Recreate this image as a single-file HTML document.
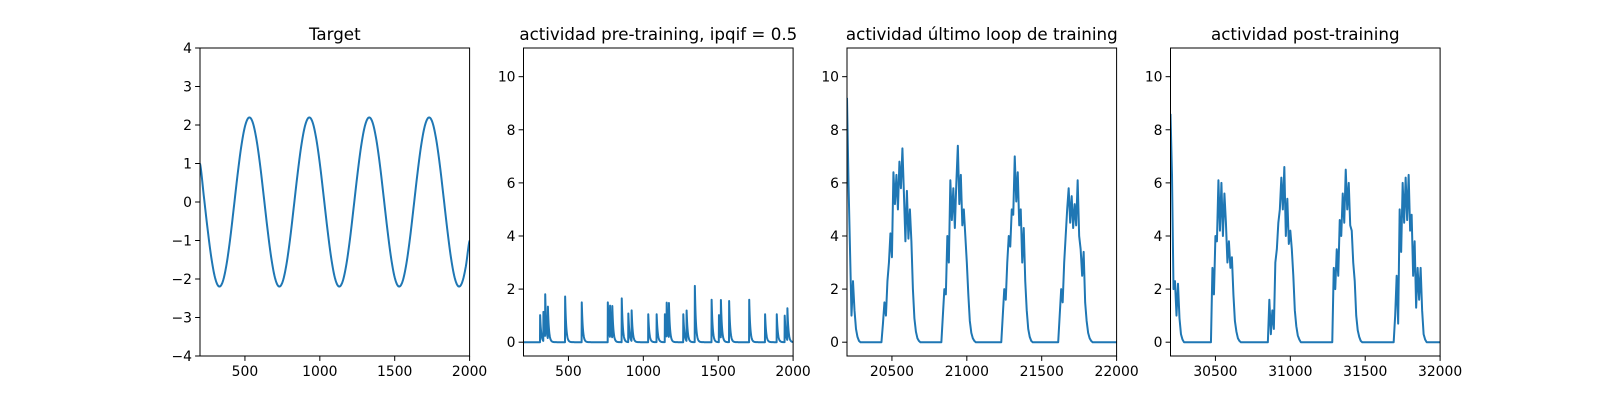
<!DOCTYPE html>
<html><head><meta charset="utf-8">
<style>
html,body{margin:0;padding:0;background:#fff;}
svg{display:block;font-family:"DejaVu Sans","Liberation Sans",sans-serif;}
</style></head>
<body>
<svg id="fig" width="1600" height="400" viewBox="0 0 1600 400" xmlns="http://www.w3.org/2000/svg"></svg>
<script>
// ---- data ----
const targetX0 = 200, targetStep = 25;
const targetValues = [1.0,0.17,-0.68,-1.43,-1.96,-2.19,-2.09,-1.67,-1.0,-0.17,0.68,1.43,1.96,2.19,2.09,1.67,
1.0,0.17,-0.68,-1.43,-1.96,-2.19,-2.09,-1.67,-1.0,-0.17,0.68,1.43,1.96,2.19,2.09,1.67,
1.0,0.17,-0.68,-1.43,-1.96,-2.19,-2.09,-1.67,-1.0,-0.17,0.68,1.43,1.96,2.19,2.09,1.67,
1.0,0.17,-0.68,-1.43,-1.96,-2.19,-2.09,-1.67,-1.0,-0.17,0.68,1.43,1.96,2.19,2.09,1.67,
1.0,0.17,-0.68,-1.43,-1.96,-2.19,-2.09,-1.67,-1.0];
const spikeTimes = [311,333,345,363,478,589,763,778,793,856,900,922,1033,1089,1144,1156,1171,1267,1289,1344,1456,1505,1518,1573,1707,1813,1891,1944,1962];
const spikeHeights = [1.02,1.1,1.6,1.2,1.72,1.5,1.5,1.2,1.2,1.65,1.08,1.15,1.05,1.05,1.05,1.3,1.3,1.05,1.15,2.12,1.6,1.02,1.43,1.55,1.6,1.05,1.05,1.0,1.2];
const trainX0 = 20200, trainStep = 10;
const trainValues = [9.2,6.0,3.5,1.0,2.3,1.2,0.5,0.2,0.05,0,0,0,0,0,0,0,0,0,0,0,0,0,0,0,
0.7,1.5,1.0,2.3,3.0,4.1,3.2,6.4,5.2,6.3,5.0,6.8,5.8,7.3,5.6,3.8,5.7,3.9,5.0,3.8,2.0,0.9,0.4,0.15,0.05,
0,0,0,0,0,0,0,0,0,0,0,0,0,0,0,
1.0,2.0,1.8,4.0,3.0,6.1,4.6,5.8,4.3,6.0,7.4,5.2,6.3,4.4,5.0,4.0,3.0,1.8,0.8,0.35,0.15,0.05,
0,0,0,0,0,0,0,0,0,0,0,0,0,0,0,0,0,0,
1.0,2.0,1.6,3.0,4.0,3.6,5.0,4.8,7.0,5.3,6.4,4.4,5.0,3.0,4.3,2.3,1.2,0.5,0.2,0.05,
0,0,0,0,0,0,0,0,0,0,0,0,0,0,0,0,0,0,
1.0,2.0,1.5,3.0,4.0,5.0,5.8,4.5,5.5,4.3,5.2,4.4,6.1,4.0,3.5,2.5,3.4,1.5,0.8,0.35,0.15,0.05,
0,0,0,0,0,0,0,0,0,0,0,0,0,0,0,0,0];
const postX0 = 30200, postStep = 10;
const postValues = [8.6,6.3,2.0,2.3,1.0,2.2,0.9,0.3,0.1,0,0,0,0,0,0,0,0,0,0,0,0,0,0,0,0,0,0,0,
2.8,1.8,4.0,3.8,6.1,4.2,6.0,4.0,5.6,4.5,3.0,3.8,2.8,3.2,1.8,0.8,0.4,0.15,0.05,
0,0,0,0,0,0,0,0,0,0,0,0,0,0,0,0,0,0,0,
1.6,0.3,1.2,0.5,3.0,3.5,4.5,5.0,6.2,5.0,6.6,4.0,5.4,3.7,4.2,3.5,2.5,1.2,0.6,0.25,0.1,
0,0,0,0,0,0,0,0,0,0,0,0,0,0,0,0,0,0,0,0,0,0,
2.8,2.0,3.5,2.5,4.6,4.0,5.6,4.5,6.5,5.0,6.0,4.4,4.2,3.0,2.3,1.0,0.45,0.2,0.05,
0,0,0,0,0,0,0,0,0,0,0,0,0,0,0,0,0,0,0,0,0,0,
1.0,2.5,0.7,5.0,3.4,6.0,4.5,6.2,4.6,6.3,4.2,4.8,2.5,3.8,1.3,2.8,1.6,2.8,1.2,0.3,0.1,
0,0,0,0,0,0,0,0,0,0];
const titles = ["Target","actividad pre-training, ipqif = 0.5","actividad último loop de training","actividad post-training"];
const yTicksTarget = [-4,-3,-2,-1,0,1,2,3,4];
const yTicksAct = [0,2,4,6,8,10];
const xTicks1 = [500,1000,1500,2000];
const xTicks3 = [20500,21000,21500,22000];
const xTicks4 = [30500,31000,31500,32000];

// ---- rendering ----
const NS="http://www.w3.org/2000/svg";
const fig=document.getElementById('fig');
function mk(tag,attrs,parent){const e=document.createElementNS(NS,tag);for(const k in attrs)e.setAttribute(k,attrs[k]);(parent||fig).appendChild(e);return e;}
const AX_W=269.6, AX_GAP=53.9, AX_TOP=48, AX_BOT=356, C="#1f77b4";
const lefts=[200,200+AX_W+AX_GAP,200+2*(AX_W+AX_GAP),200+3*(AX_W+AX_GAP)];
const fmt=v=>v<0?"\u2212"+Math.abs(v):String(v);

function panel(i,xmin,xmax,ymin,ymax,xt,yt,series){
  const L=lefts[i];
  const sx=v=>L+(v-xmin)/(xmax-xmin)*AX_W, sy=v=>AX_BOT-(v-ymin)/(ymax-ymin)*(AX_BOT-AX_TOP);
  const g=mk('g',{});
  
  
  const cp=mk('clipPath',{id:'clip'+i},g);
  mk('rect',{x:L,y:AX_TOP,width:AX_W,height:AX_BOT-AX_TOP},cp);
  const d=series.map((p,k)=>(k?'L':'M')+sx(p[0]).toFixed(2)+','+sy(p[1]).toFixed(2)).join('');
  const path=mk('path',{d:d,fill:'none',stroke:C,'stroke-width':2,'stroke-linejoin':'round','clip-path':'url(#clip'+i+')'},g);
  
  
  const frame=mk('rect',{x:L,y:AX_TOP,width:AX_W,height:AX_BOT-AX_TOP,fill:'none',stroke:'#000','stroke-width':1},g);
  
  
  xt.forEach(v=>{const x=sx(v);
    mk('line',{x1:x,x2:x,y1:AX_BOT,y2:AX_BOT+4.9,stroke:'#000','stroke-width':1},g);
    const t=mk('text',{x:x,y:AX_BOT+20,'text-anchor':'middle','font-size':13.9,fill:'#000'},g);t.textContent=fmt(v);
    
    });
  yt.forEach(v=>{const y=sy(v);
    mk('line',{x1:L-4.9,x2:L,y1:y,y2:y,stroke:'#000','stroke-width':1},g);
    const t=mk('text',{x:L-8,y:y+5,'text-anchor':'end','font-size':13.9,fill:'#000'},g);t.textContent=fmt(v);
    
    });
  const tt=mk('text',{x:L+AX_W/2,y:AX_TOP-8,'text-anchor':'middle','font-size':16.7,fill:'#000'},g);tt.textContent=titles[i];
  
  
}
function smooth(x0,step,vals){const pts=[];for(let k=0;k<vals.length-1;k++){const p0=vals[Math.max(0,k-1)],p1=vals[k],p2=vals[k+1],p3=vals[Math.min(vals.length-1,k+2)];
  for(let s=0;s<8;s++){const t=s/8,t2=t*t,t3=t2*t;
    const v=0.5*((2*p1)+(-p0+p2)*t+(2*p0-5*p1+4*p2-p3)*t2+(-p0+3*p1-3*p2+p3)*t3);pts.push([x0+(k+t)*step,v]);}}
  pts.push([x0+(vals.length-1)*step,vals[vals.length-1]]);return pts;}
function stepSeries(x0,step,vals){return vals.map((v,k)=>[x0+k*step,v]);}
function spikeSeries(){const pts=[],tau=7;
  for(let x=200;x<=2000;x+=1){let v=0;spikeTimes.forEach((t,k)=>{if(x>=t)v+=spikeHeights[k]*Math.exp(-(x-t)/tau);});pts.push([x,v]);}
  return pts;}
panel(0,200,2000,-4,4,xTicks1,yTicksTarget,smooth(targetX0,targetStep,targetValues));
panel(1,200,2000,-0.52,11.08,xTicks1,yTicksAct,spikeSeries());
panel(2,20200,22000,-0.52,11.08,xTicks3,yTicksAct,stepSeries(trainX0,trainStep,trainValues));
panel(3,30200,32000,-0.52,11.08,xTicks4,yTicksAct,stepSeries(postX0,postStep,postValues));
</script>
</body></html>
